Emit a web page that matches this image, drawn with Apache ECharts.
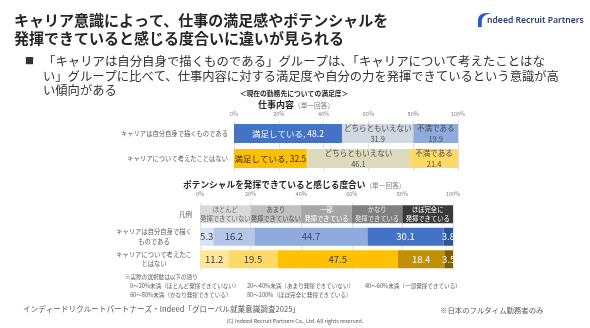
<!DOCTYPE html>
<html><head><meta charset="utf-8">
<script src="https://cdn.jsdelivr.net/npm/echarts@6/dist/echarts.min.js"></script>
<style>html,body{margin:0;padding:0;background:#fff}#c{width:590px;height:328px}</style>
</head><body><div id="c"></div>
<script>
const FONT = '"Noto Sans CJK JP", "Noto Sans", sans-serif';

// 現在の勤務先についての満足度：仕事内容（単一回答）
const groups1 = ['キャリアは自分自身で描くものである', 'キャリアについて考えたことはない'];
const satisfactionNames = ['満足している', 'どちらともいえない', '不満である'];
const satisfactionCareer = [48.2, 31.9, 19.9];
const satisfactionNoThought = [32.5, 46.1, 21.4];

// ポテンシャルを発揮できていると感じる度合い（単一回答）
const groups2 = ['凡例', 'キャリアは自分自身で描く\nものである', 'キャリアについて考えたこ\nとはない'];
const potentialNames = ['ほとんど\n発揮できていない', 'あまり\n発揮できていない', '一部\n発揮できている', 'かなり\n発揮できている', 'ほぼ完全に\n発揮できている'];
const potentialRanges = [[0, 20], [20, 40], [40, 60], [60, 80], [80, 100]];
const potentialCareer = [5.3, 16.2, 44.7, 30.1, 3.8];
const potentialNoThought = [11.2, 19.5, 47.5, 18.4, 3.5];

// colours
const satColorsA = ['#4472C4', '#D0D8E1', '#8FAADC'];
const satColorsB = ['#FFC000', '#DCDBBE', '#FFD966'];
const satTextA = ['#ffffff', '#4a4a4a', '#4a4a4a'];
const satTextB = ['#262626', '#4a4a4a', '#4a4a4a'];
const legendColors = ['#D9D9D9', '#C0C0C0', '#A6A6A6', '#808080', '#3A3A3A'];
const legendText = ['#6a6a6a', '#555555', '#ffffff', '#e6e6e6', '#ffffff'];
const potColorsA = ['#DAE3F3', '#B4C7E7', '#8FAADC', '#4472C4', '#2F5597'];
const potColorsB = ['#FFE699', '#FFD966', '#FFC000', '#BF9000', '#7F6000'];
const potTextA = ['#404040', '#404040', '#3b4b6b', '#ffffff', '#ffffff'];
const potTextB = ['#404040', '#404040', '#404040', '#ffffff', '#ffffff'];

const pct = v => v + '%';

const xAxisBase = (gridIndex, margin) => ({
  type: 'value', gridIndex, min: 0, max: 100, interval: 20, position: 'top',
  axisLine: { show: false }, axisTick: { show: false },
  axisLabel: { formatter: pct, fontSize: 5.5, color: '#7f7f7f', margin, fontFamily: FONT },
  splitLine: { lineStyle: { color: '#d9d9d9', width: 0.8 } }
});

const series = [];
satisfactionNames.forEach((name, i) => {
  series.push({
    type: 'bar', name, stack: 's1', xAxisIndex: 0, yAxisIndex: 0, barWidth: 19,
    label: {
      show: true, position: 'inside', fontFamily: FONT,
      fontSize: i === 0 ? 8.5 : 7.5, lineHeight: 10.5,
      formatter: p => i === 0 ? `${name}, ${p.value}` : `${name}\n${p.value}`
    },
    data: [
      { value: satisfactionCareer[i], itemStyle: { color: satColorsA[i] }, label: { color: satTextA[i] } },
      { value: satisfactionNoThought[i], itemStyle: { color: satColorsB[i] }, label: { color: satTextB[i] } }
    ]
  });
});

potentialNames.forEach((name, i) => {
  series.push({
    type: 'bar', name, stack: 's2', xAxisIndex: 1, yAxisIndex: 1, barWidth: 18,
    label: { show: true, position: 'inside', fontFamily: FONT, fontSize: 9.5 },
    data: [
      { value: potentialRanges[i][1] - potentialRanges[i][0], itemStyle: { color: legendColors[i] },
        label: { formatter: name, color: legendText[i], fontSize: 6.3, lineHeight: 9 } },
      { value: potentialCareer[i], itemStyle: { color: potColorsA[i] }, label: { color: potTextA[i] } },
      { value: potentialNoThought[i], itemStyle: { color: potColorsB[i] }, label: { color: potTextB[i] } }
    ]
  });
});

// range notes built from the answer bands
const noteLines = potentialRanges.map((r, i) => {
  const label = potentialNames[i].replace('\n', '');
  return i === potentialRanges.length - 1
    ? `${r[0]}〜${r[1]}%（${label}）`
    : `${r[0]}〜${r[1]}%未満（${label}）`;
});
const noteCols = [130, 247, 365];
const noteRows = [286, 294.5];

const txt = (x, y, text, size, color, extra = {}) => ({
  type: 'text', x, y,
  style: Object.assign({ text, fontSize: size, fill: color, fontFamily: FONT, verticalAlign: 'middle' }, extra)
});

// logo mark: a curved stroke sampled from two quadratic curves
function quad(p0, c, p1, n) {
  const pts = [];
  for (let k = 0; k <= n; k++) {
    const t = k / n, u = 1 - t;
    pts.push([u * u * p0[0] + 2 * u * t * c[0] + t * t * p1[0], u * u * p0[1] + 2 * u * t * c[1] + t * t * p1[1]]);
  }
  return pts;
}
const logoPoints = [[478, 27]]
  .concat(quad([478, 19.5], [479, 11.5], [492, 13.5], 14))
  .concat(quad([492, 13.5], [483, 14], [481.8, 20.5], 14))
  .concat([[481.8, 27]]);

const graphics = [
  txt(14, 20, 'キャリア意識によって、仕事の満足感やポテンシャルを', 15, '#262626', { fontWeight: 'bold' }),
  txt(14, 38.5, '発揮できていると感じる度合いに違いが見られる', 15, '#262626', { fontWeight: 'bold' }),
  txt(25, 61, '■', 9, '#333333'),
  txt(43, 61, '「キャリアは自分自身で描くものである」グループは、「キャリアについて考えたことはな', 12.4, '#333333'),
  txt(43, 76, 'い」グループに比べて、仕事内容に対する満足度や自分の力を発揮できているという意識が高', 12.3, '#333333'),
  txt(43, 90, 'い傾向がある', 12.3, '#333333'),
  txt(294, 93, '＜現在の勤務先についての満足度＞', 6.8, '#262626', { fontWeight: 'bold', align: 'center' }),
  {
    type: 'text', x: 258, y: 105,
    style: {
      text: '{a|仕事内容}{b|（単一回答）}', verticalAlign: 'middle',
      rich: {
        a: { fontSize: 9, fontWeight: 'bold', fill: '#262626', fontFamily: FONT },
        b: { fontSize: 6.7, fill: '#808080', fontFamily: FONT }
      }
    }
  },
  {
    type: 'text', x: 183, y: 185,
    style: {
      text: '{a|ポテンシャルを発揮できていると感じる度合い}{b|（単一回答）}', verticalAlign: 'middle',
      rich: {
        a: { fontSize: 8.7, fontWeight: 'bold', fill: '#262626', fontFamily: FONT },
        b: { fontSize: 6.7, fill: '#808080', fontFamily: FONT }
      }
    }
  },
  txt(125, 277, '※実際の選択肢は以下の通り', 5.6, '#595959'),
  ...noteLines.map((t, i) => txt(noteCols[i % 3], noteRows[Math.floor(i / 3)], t, 5.6, '#595959')),
  txt(23, 309, 'インディードリクルートパートナーズ・Indeed「グローバル就業意識調査2025」', 7.6, '#595959'),
  txt(440, 310, '※日本のフルタイム勤務者のみ', 7.4, '#595959'),
  txt(295, 321, '(C) Indeed Recruit Partners Co., Ltd. All rights reserved.', 5.4, '#595959', { align: 'center' }),
  { type: 'polygon', shape: { points: logoPoints }, style: { fill: '#2557D6' } },
  txt(487, 20.5, 'ndeed Recruit Partners', 8.6, '#2A3C6E', { fontWeight: 600, fontFamily: '"Noto Sans", sans-serif' })
];

const option = {
  animation: false,
  backgroundColor: '#ffffff',
  textStyle: { fontFamily: FONT },
  grid: [
    { left: 234, width: 224, top: 121, height: 50 },
    { left: 200, width: 253, top: 203, height: 67.5 }
  ],
  xAxis: [xAxisBase(0, 4.5), xAxisBase(1, 6)],
  yAxis: [
    {
      type: 'category', gridIndex: 0, data: groups1, inverse: true,
      axisLine: { show: false }, axisTick: { show: false },
      axisLabel: { fontSize: 6.3, color: '#595959', margin: 6, fontFamily: FONT }
    },
    {
      type: 'category', gridIndex: 1, data: groups2, inverse: true,
      axisLine: { show: false }, axisTick: { show: false },
      axisLabel: {
        align: 'right', margin: 8, fontFamily: FONT,
        formatter: v => v.includes('\n')
          ? v.split('\n').map(s => `{c|${s}}`).join('\n')
          : `{l|${v}}`,
        rich: {
          c: { width: 76, align: 'center', fontSize: 6.3, lineHeight: 9.5, color: '#595959', fontFamily: FONT },
          l: { fontSize: 6.5, color: '#595959', fontFamily: FONT }
        }
      }
    }
  ],
  series,
  graphic: graphics
};

const chart = echarts.init(document.getElementById('c'), null, { renderer: 'canvas' });
chart.setOption(option);
</script>
</body></html>
